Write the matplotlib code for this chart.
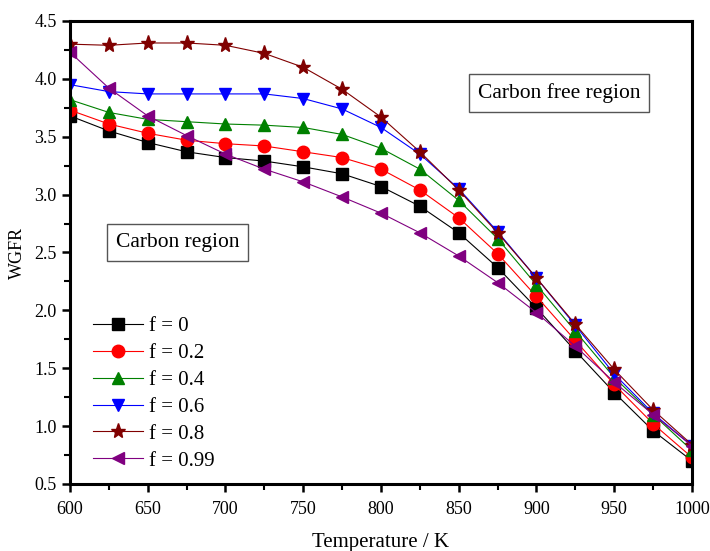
import matplotlib
matplotlib.use('Agg')
import matplotlib.pyplot as plt
from matplotlib.ticker import MultipleLocator

plt.rcParams['font.family'] = ['Liberation Serif', 'DejaVu Serif']

temps = [600, 625, 650, 675, 700, 725, 750, 775, 800, 825, 850, 875, 900, 925, 950, 975, 1000]

wgfr_f0 = [3.68, 3.55, 3.45, 3.37, 3.32, 3.29, 3.24, 3.18, 3.07, 2.90, 2.67, 2.37, 2.02, 1.65, 1.29, 0.96, 0.70]
wgfr_f02 = [3.73, 3.61, 3.53, 3.47, 3.44, 3.42, 3.37, 3.32, 3.22, 3.04, 2.80, 2.49, 2.12, 1.74, 1.36, 1.02, 0.73]
wgfr_f04 = [3.82, 3.71, 3.65, 3.63, 3.61, 3.60, 3.58, 3.52, 3.40, 3.22, 2.95, 2.62, 2.22, 1.82, 1.42, 1.10, 0.79]
wgfr_f06 = [3.95, 3.89, 3.87, 3.87, 3.87, 3.87, 3.83, 3.74, 3.58, 3.35, 3.05, 2.68, 2.28, 1.87, 1.45, 1.11, 0.83]
wgfr_f08 = [4.30, 4.29, 4.31, 4.31, 4.29, 4.22, 4.10, 3.91, 3.67, 3.37, 3.04, 2.67, 2.28, 1.88, 1.49, 1.14, 0.84]
wgfr_f099 = [4.23, 3.92, 3.68, 3.51, 3.35, 3.22, 3.11, 2.98, 2.84, 2.67, 2.47, 2.24, 1.98, 1.69, 1.38, 1.10, 0.83]

labels = ['f = 0', 'f = 0.2', 'f = 0.4', 'f = 0.6', 'f = 0.8', 'f = 0.99']
series = [wgfr_f0, wgfr_f02, wgfr_f04, wgfr_f06, wgfr_f08, wgfr_f099]
colors = ['black', 'red', 'green', 'blue', '#800000', '#800080']
markers = ['s', 'o', '^', 'v', '*', '<']
sizes = [8, 9, 9, 9, 11, 9]

fig = plt.figure(figsize=(7.10, 5.51), dpi=100)
ax = fig.add_axes([0.0986, 0.1216, 0.8760, 0.8403])

for vals, lab, c, m, s in zip(series, labels, colors, markers, sizes):
    ax.plot(temps, vals, color=c, marker=m, markersize=s, linewidth=0.8,
            markeredgecolor=c, label=lab)

ax.set_xlim(600, 1000)
ax.set_ylim(0.5, 4.5)
ax.xaxis.set_major_locator(MultipleLocator(50))
ax.xaxis.set_minor_locator(MultipleLocator(25))
ax.yaxis.set_major_locator(MultipleLocator(0.5))
ax.yaxis.set_minor_locator(MultipleLocator(0.25))
ax.yaxis.set_major_formatter(plt.FormatStrFormatter('%.1f'))
ax.tick_params(which='major', direction='out', length=6, width=1.8, labelsize=13, colors='black')
ax.tick_params(axis='x', which='major', pad=6)
ax.tick_params(which='minor', direction='out', length=4, width=1.5)
for sp in ax.spines.values():
    sp.set_linewidth(2.2)

ax.set_xlabel('Temperature / K', fontsize=15, labelpad=11)
ax.set_ylabel('WGFR', fontsize=13, labelpad=6)

box = dict(boxstyle='square,pad=0.42', facecolor='white', edgecolor='#555555', linewidth=1)
ax.text(669, 2.59, 'Carbon region', fontsize=15.5, ha='center', va='center', bbox=box)
ax.text(914.5, 3.88, 'Carbon free region', fontsize=15.5, ha='center', va='center', bbox=box)

ax.legend(loc='lower left', bbox_to_anchor=(0.023, 0.011), frameon=False, fontsize=15,
          handlelength=2.4, handletextpad=0.3, labelspacing=0.35, borderaxespad=0)

fig.savefig('out.png', dpi=100)
